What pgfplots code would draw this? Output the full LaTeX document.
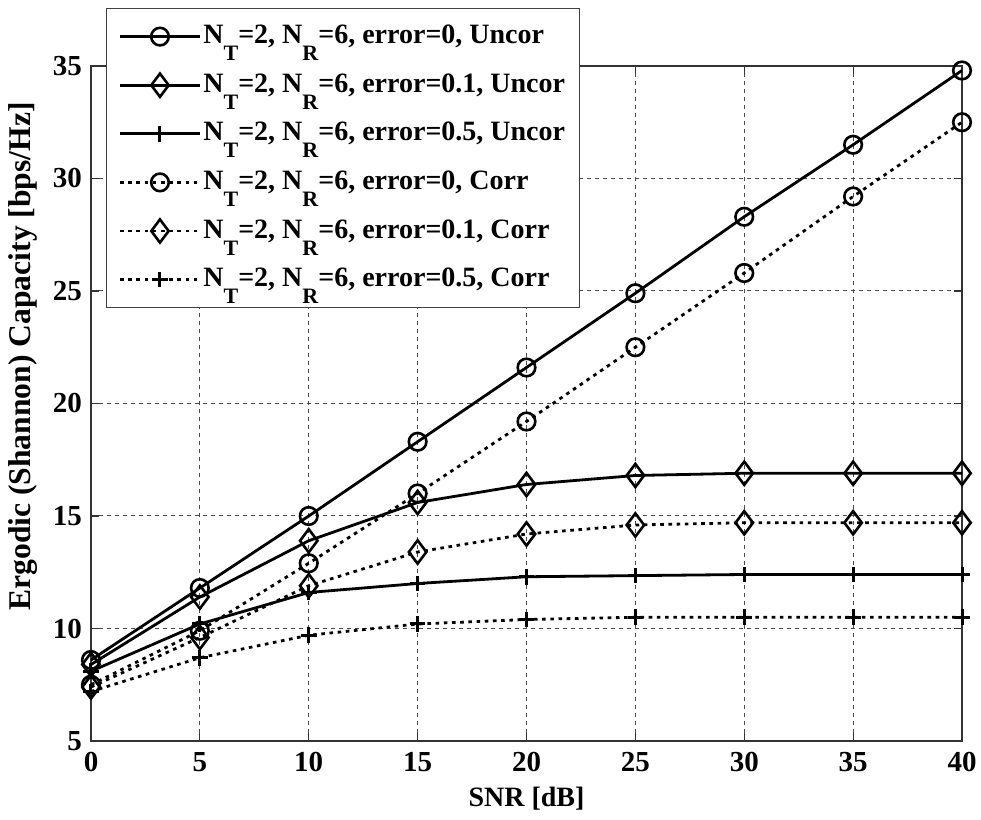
\documentclass[border=0pt]{standalone}
\usepackage{pgfplots}
\pgfplotsset{compat=1.18}
\usepackage{fontspec}
\setmainfont{Liberation Serif}
\newcommand\sub[1]{\raisebox{-8.5pt}[0pt][0pt]{\fontsize{11}{11}\selectfont #1}}
\begin{document}
\begin{tikzpicture}
\useasboundingbox (-45.5pt,-39.5pt) rectangle (445pt,370.5pt);
\begin{axis}[
  scale only axis, width=435.5pt, height=337.5pt,
  xmin=0, xmax=40, ymin=5, ymax=35,
  xtick={0,5,...,40}, ytick={5,10,...,35},
  grid=major,
  major grid style={black!70, line width=0.5pt, dash pattern=on 2pt off 2pt},
  axis line style={black!80, line width=0.6pt},
  tick style={black!80, line width=0.6pt},
  tick align=inside, major tick length=4pt,
  /pgf/number format/assume math mode=true,
  tick label style={font=\fontsize{14.5}{14.5}\selectfont\bfseries},
  yticklabel style={xshift=-1pt},
  xticklabel style={yshift=-2pt},
  label style={font=\fontsize{14}{16}\selectfont\bfseries},
  xlabel={SNR [dB]},
  ylabel={Ergodic (Shannon) Capacity [bps/Hz]},
  xlabel style={at={(axis description cs:0.5,0)}, anchor=center, yshift=-29pt},
  ylabel style={at={(axis description cs:-0.0780,0.5696)}, anchor=center,
    font=\fontsize{15.8}{17}\selectfont\bfseries},
  legend cell align=left,
  legend style={at={(axis description cs:0.0172,1.0859)}, anchor=north west,
    draw=black!75, line width=0.6pt, fill=white,
    font=\fontsize{14}{14}\selectfont\bfseries,
    inner xsep=6pt, inner ysep=5.5pt, row sep=7.3pt,
    nodes={inner xsep=1pt, inner ysep=2pt, text height=10pt, text depth=3pt},
    /tikz/every even column/.append style={column sep=0pt}},
  legend image code/.code={\draw[mark repeat=2,mark phase=2,#1] plot coordinates {(0pt,0pt)(20pt,0pt)(40pt,0pt)};},
  every axis plot/.append style={black, line width=1.4pt},
  dotline/.style={dash pattern=on 1.8pt off 2.3pt},
]
\addplot[mark=o, mark size=4.4pt, mark options={solid, line width=1.3pt}] coordinates {
(0,8.6) (5,11.8) (10,15.0) (15,18.3) (20,21.6) (25,24.9) (30,28.3) (35,31.5) (40,34.8)};
\addlegendentry{N\sub{T}=2, N\sub{R}=6, error=0, Uncor}
\addplot[mark=diamond, mark size=5.8pt, mark options={solid, line width=1.3pt}] coordinates {
(0,8.4) (5,11.4) (10,13.9) (15,15.6) (20,16.4) (25,16.8) (30,16.9) (35,16.9) (40,16.9)};
\addlegendentry{N\sub{T}=2, N\sub{R}=6, error=0.1, Uncor}
\addplot[mark=+, mark size=3.9pt, mark options={solid, line width=1.5pt}] coordinates {
(0,8.1) (5,10.2) (10,11.6) (15,12.0) (20,12.3) (25,12.35) (30,12.4) (35,12.4) (40,12.4)};
\addlegendentry{N\sub{T}=2, N\sub{R}=6, error=0.5, Uncor}
\addplot[dotline, mark=o, mark size=4.4pt, mark options={solid, line width=1.3pt}] coordinates {
(0,7.5) (5,9.9) (10,12.9) (15,16.0) (20,19.2) (25,22.5) (30,25.8) (35,29.2) (40,32.5)};
\addlegendentry{N\sub{T}=2, N\sub{R}=6, error=0, Corr}
\addplot[dotline, mark=diamond, mark size=5.8pt, mark options={solid, line width=1.3pt}] coordinates {
(0,7.4) (5,9.6) (10,11.9) (15,13.4) (20,14.2) (25,14.6) (30,14.7) (35,14.7) (40,14.7)};
\addlegendentry{N\sub{T}=2, N\sub{R}=6, error=0.1, Corr}
\addplot[dotline, mark=+, mark size=3.9pt, mark options={solid, line width=1.5pt}] coordinates {
(0,7.2) (5,8.7) (10,9.7) (15,10.2) (20,10.4) (25,10.5) (30,10.5) (35,10.5) (40,10.5)};
\addlegendentry{N\sub{T}=2, N\sub{R}=6, error=0.5, Corr}
\end{axis}
\end{tikzpicture}
\end{document}
